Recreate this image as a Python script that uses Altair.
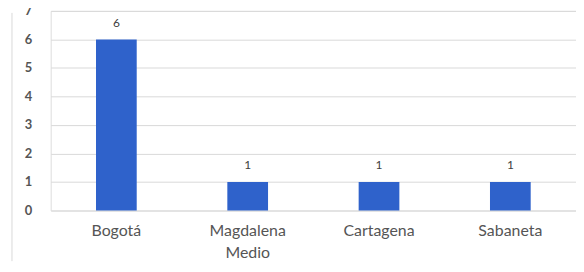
import altair as alt
import pandas as pd

categories = ["Bogotá", "Magdalena Medio", "Cartagena", "Sabaneta"]
values = [6, 1, 1, 1]
y_ticks = [0, 1, 2, 3, 4, 5, 6, 7]

df = pd.DataFrame({"ciudad": categories, "valor": values})

FONT = "Lato"
BAR = "#2F62CB"

x_enc = alt.X(
    "ciudad:N",
    sort=categories,
    scale=alt.Scale(paddingInner=0, paddingOuter=0),
    axis=alt.Axis(
        title=None, domain=False, ticks=False, tickSize=0, labelAngle=0,
        labelFont=FONT, labelFontSize=16, labelColor="#555555",
        labelPadding=12, labelLineHeight=22, labelBaseline="top",
        labelExpr="split(datum.label, ' ')",
    ),
)
y_enc = alt.Y(
    "valor:Q",
    scale=alt.Scale(domain=[0, 7], nice=False),
    axis=alt.Axis(
        title=None, domain=False, ticks=False, tickSize=0, values=y_ticks,
        labelOverlap=False, labelFont=FONT, labelFontSize=13,
        labelFontWeight="bold", labelColor="#555555", labelPadding=19,
        grid=True, gridColor="#d9d9d9", gridWidth=1,
    ),
)

base = alt.Chart(df).encode(x=x_enc, y=y_enc)
bars = base.mark_bar(size=41, color=BAR)
labels = base.mark_text(
    font=FONT, fontSize=12, color="#404040", baseline="alphabetic", dy=-13
).encode(text="valor:Q")

border = alt.Chart(alt.Data(values=[{"a": 1}])).mark_rule(
    color="#d9d9d9", strokeWidth=1
).encode(x=alt.value(-39), y=alt.value(2), y2=alt.value(252))

chart = (
    alt.layer(border, bars, labels)
    .properties(
        width=529,
        height=201,
        padding={"left": 43, "top": 2, "right": 0, "bottom": 61},
        autosize="none",
    )
    .configure_view(stroke=None)
    .configure(background="white")
)

chart.save("out.html", embed_options={"renderer": "svg", "actions": False})
